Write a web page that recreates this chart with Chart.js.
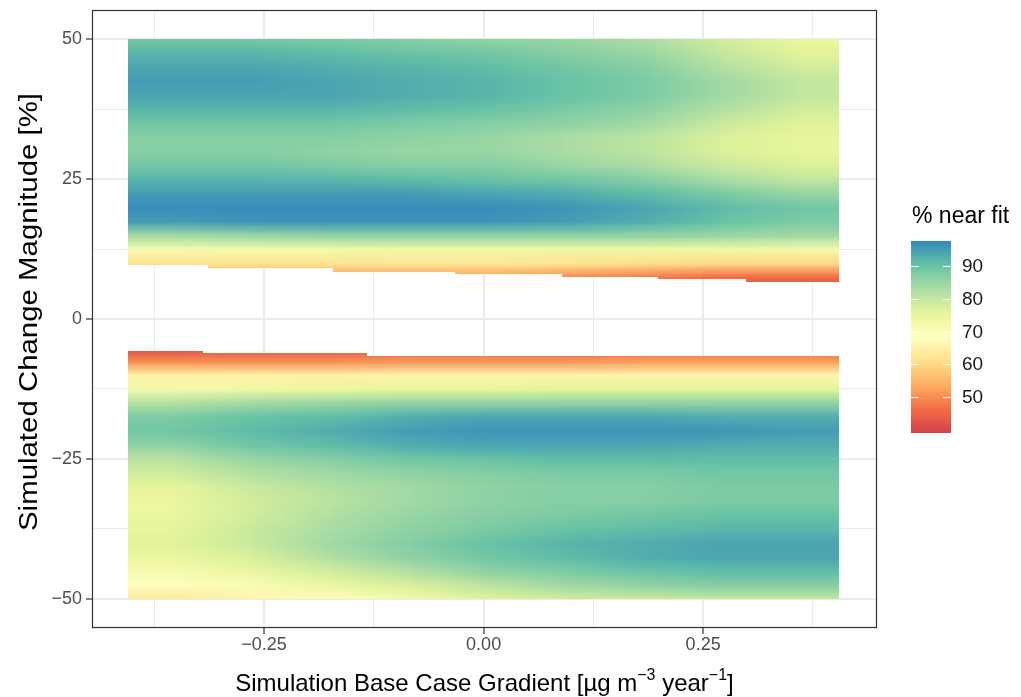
<!DOCTYPE html>
<html><head><meta charset="utf-8">
<script src="https://cdn.jsdelivr.net/npm/chart.js@4.4.0/dist/chart.umd.min.js"></script>
<style>html,body{margin:0;padding:0;background:#fff;}#wrap{width:1021px;height:697px;}</style>
</head><body><div id="wrap"><canvas id="c" width="1021" height="697"></canvas></div>
<script>
// ---------- data ----------
const xCenters = [-0.36, -0.27, -0.18, -0.09, 0, 0.09, 0.18, 0.27, 0.36];

const topRowsY = [50, 47.5, 45, 42.5, 40, 37.5, 35, 32.5, 30, 27.5, 25, 22.5, 20, 17.5, 15, 12.5, 10, 7.5, 5];
const topValues = [
  [89, 89, 88, 87, 86, 85, 83, 78, 74],
  [92, 92, 91, 90, 89, 87, 85, 80, 76],
  [94, 94, 93, 92, 91, 89, 87, 82, 78],
  [95, 95, 94, 93, 92, 90, 88, 84, 80],
  [94, 94, 94, 93, 92, 90, 88, 84, 80],
  [92, 92, 92, 91, 90, 88, 86, 82, 78],
  [89, 89, 89, 88, 87, 86, 84, 79, 76],
  [87, 87, 87, 86, 85, 83, 81, 77, 75],
  [87, 87, 86, 85, 85, 83, 81, 77, 75],
  [89, 89, 88, 87, 87, 85, 83, 79, 77],
  [92, 92, 92, 91, 90, 89, 87, 83, 80],
  [95, 95, 95, 95, 94, 93, 91, 88, 85],
  [97, 97, 97, 97, 97, 96, 94, 91, 89],
  [95, 96, 96, 96, 96, 95, 93, 90, 88],
  [84, 85, 86, 86, 86, 86, 86, 85, 84],
  [71, 72, 72, 73, 73, 73, 73, 73, 72],
  [62, 62, 62, 63, 63, 62, 61, 60, 60],
  [52, 52, 52, 52, 52, 50, 48, 46, 46],
  [46, 46, 46, 46, 46, 44, 42, 40, 40]
];

const bottomRowsY = [-5, -7.5, -10, -12.5, -15, -17.5, -20, -22.5, -25, -27.5, -30, -32.5, -35, -37.5, -40, -42.5, -45, -47.5, -50];
const bottomValues = [
  [40, 41, 42, 43, 43, 43, 43, 43, 43],
  [50, 50, 50, 51, 51, 51, 52, 52, 52],
  [65, 65, 65, 66, 66, 66, 66, 66, 66],
  [72, 73, 74, 75, 75, 76, 76, 76, 76],
  [82, 84, 85, 86, 86, 86, 86, 86, 86],
  [88, 90, 91, 93, 94, 94, 94, 93, 93],
  [89, 91, 93, 95, 96, 96, 96, 96, 95],
  [86, 89, 91, 93, 94, 94, 94, 93, 93],
  [81, 85, 87, 89, 90, 91, 91, 91, 91],
  [78, 82, 84, 86, 87, 88, 88, 89, 89],
  [75, 79, 82, 84, 86, 87, 87, 88, 88],
  [74, 78, 81, 84, 86, 87, 87, 88, 88],
  [74, 78, 82, 85, 87, 88, 89, 90, 90],
  [75, 79, 83, 86, 88, 90, 91, 92, 92],
  [76, 79, 84, 87, 90, 92, 93, 94, 94],
  [74, 77, 82, 86, 89, 91, 93, 94, 94],
  [71, 74, 78, 82, 86, 88, 90, 91, 91],
  [68, 70, 74, 77, 81, 84, 86, 87, 87],
  [63, 66, 69, 72, 76, 78, 79, 80, 80]
];

// band limits (stepped inner edges)
const topBandMax = 50;
const topEdgeBreaks = [-0.405, -0.314, -0.171, -0.033, 0.089, 0.199, 0.299, 0.405];
const topEdgeY = [9.6, 9.05, 8.45, 8.05, 7.55, 7.1, 6.65];
const bottomBandMin = -50;
const bottomEdgeBreaks = [-0.405, -0.32, -0.133, 0.405];
const bottomEdgeY = [-5.65, -6.1, -6.6];

// axes
const xTicks = [-0.375, -0.25, -0.125, 0, 0.125, 0.25, 0.375];
const xTickLabels = {"-0.25": "\u22120.25", "0": "0.00", "0.25": "0.25"};
const yTicks = [-50, -37.5, -25, -12.5, 0, 12.5, 25, 37.5, 50];
const yTickLabels = {"-50": "\u221250", "-25": "\u221225", "0": "0", "25": "25", "50": "50"};

// colour scale
const legendTicks = [50, 60, 70, 80, 90];
const fillMin = 39, fillMax = 97.7;
const spectral = ['#D53E4F', '#F46D43', '#FDAE61', '#FEE08B', '#FFFFBF', '#E6F598', '#ABDDA4', '#66C2A5', '#3288BD'];

// ---------- helpers ----------
const FONT = "'Liberation Sans', Arial, sans-serif";
const spRGB = spectral.map(h => [parseInt(h.substr(1,2),16), parseInt(h.substr(3,2),16), parseInt(h.substr(5,2),16)]);
function colorOf(v) {
  let t = (v - fillMin) / (fillMax - fillMin);
  t = Math.max(0, Math.min(1, t));
  const p = t * (spRGB.length - 1);
  const i = Math.min(spRGB.length - 2, Math.floor(p));
  const f = p - i;
  return spRGB[i].map((c, k) => Math.round(c + (spRGB[i + 1][k] - c) * f));
}
function isMajor(v, step) { return Math.abs(v / step - Math.round(v / step)) < 1e-6; }

function drawBand(chart, rowsY, values, breaks, edgeY, upper) {
  const {ctx, scales: {x, y}} = chart;
  const nC = xCenters.length, nR = rowsY.length;
  const off = document.createElement('canvas');
  off.width = nC; off.height = nR;
  const octx = off.getContext('2d');
  const img = octx.createImageData(nC, nR);
  for (let r = 0; r < nR; r++) for (let c = 0; c < nC; c++) {
    const col = colorOf(values[r][c]);
    const o = (r * nC + c) * 4;
    img.data[o] = col[0]; img.data[o+1] = col[1]; img.data[o+2] = col[2]; img.data[o+3] = 255;
  }
  octx.putImageData(img, 0, 0);
  const dx = (xCenters[1] - xCenters[0]) / 2;
  const dy = Math.abs(rowsY[1] - rowsY[0]) / 2;
  const px0 = x.getPixelForValue(xCenters[0] - dx), px1 = x.getPixelForValue(xCenters[nC-1] + dx);
  const py0 = y.getPixelForValue(rowsY[0] + dy), py1 = y.getPixelForValue(rowsY[nR-1] - dy);
  ctx.save();
  ctx.beginPath();
  for (let i = 0; i < edgeY.length; i++) {
    const xa = Math.round(x.getPixelForValue(breaks[i])), xb = Math.round(x.getPixelForValue(breaks[i+1]));
    let ya, yb;
    if (upper) { ya = Math.round(y.getPixelForValue(topBandMax)); yb = Math.round(y.getPixelForValue(edgeY[i])); }
    else { ya = Math.round(y.getPixelForValue(edgeY[i])); yb = Math.round(y.getPixelForValue(bottomBandMin)); }
    ctx.rect(xa, ya, xb - xa, yb - ya);
  }
  ctx.clip();
  ctx.imageSmoothingEnabled = true;
  ctx.imageSmoothingQuality = 'low';
  ctx.drawImage(off, px0, py0, px1 - px0, py1 - py0);
  ctx.restore();
}

// draw text stretched to a target length along its direction
function fitText(ctx, txt, len) {
  const w = ctx.measureText(txt).width;
  ctx.save(); ctx.scale(len / w, 1); ctx.fillText(txt, 0, 0); ctx.restore();
}

const heatPlugin = {
  id: 'heat',
  beforeDatasetsDraw(chart) {
    drawBand(chart, topRowsY, topValues, topEdgeBreaks, topEdgeY, true);
    drawBand(chart, bottomRowsY, bottomValues, bottomEdgeBreaks, bottomEdgeY, false);
  },
  afterDraw(chart) {
    const {ctx, chartArea: a} = chart;
    ctx.save();
    // panel border
    ctx.strokeStyle = '#333333'; ctx.lineWidth = 1.2;
    ctx.strokeRect(a.left + 0.5, a.top + 0.5, a.right - a.left - 1, a.bottom - a.top - 1);
    // y title
    ctx.fillStyle = '#000';
    ctx.font = '25px ' + FONT;
    ctx.textAlign = 'center'; ctx.textBaseline = 'middle';
    ctx.save();
    ctx.translate(30, 312);
    ctx.rotate(-Math.PI / 2);
    fitText(ctx, 'Simulated Change Magnitude [%]', 438);
    ctx.restore();
    // x title with superscripts
    const parts = [
      ['Simulation Base Case Gradient [\u00b5g m', false],
      ['\u22123', true],
      [' year', false],
      ['\u22121', true],
      [']', false]
    ];
    const big = '24px ' + FONT, small = '16px ' + FONT;
    let total = 0;
    parts.forEach(p => { ctx.font = p[1] ? small : big; total += ctx.measureText(p[0]).width; });
    let cx = (a.left + a.right) / 2 - total / 2;
    const by = 691;
    ctx.textAlign = 'left'; ctx.textBaseline = 'alphabetic';
    parts.forEach(p => {
      ctx.font = p[1] ? small : big;
      ctx.fillText(p[0], cx, p[1] ? by - 11 : by);
      cx += ctx.measureText(p[0]).width;
    });
    // legend
    const L = 911, R = 951, T = 241, B = 433;
    ctx.font = '23px ' + FONT; ctx.textBaseline = 'middle';
    ctx.fillStyle = '#000';
    ctx.fillText('% near fit', 912, 217);
    const g = ctx.createLinearGradient(0, B, 0, T);
    spectral.forEach((c, i) => g.addColorStop(i / (spectral.length - 1), c));
    ctx.fillStyle = g;
    ctx.fillRect(L, T, R - L, B - T);
    ctx.strokeStyle = '#fff'; ctx.lineWidth = 1.2;
    ctx.font = '19px ' + FONT; ctx.fillStyle = '#1a1a1a';
    legendTicks.forEach(v => {
      const yy = Math.round(B - (v - fillMin) / (fillMax - fillMin) * (B - T)) + 0.5;
      ctx.beginPath(); ctx.moveTo(L, yy); ctx.lineTo(L + 8, yy); ctx.moveTo(R - 8, yy); ctx.lineTo(R, yy); ctx.stroke();
      ctx.fillText(String(v), 962, yy);
    });
    ctx.restore();
  }
};

const cells = [];
topRowsY.forEach((yy, r) => xCenters.forEach((xx, c) => cells.push({x: xx, y: yy, v: topValues[r][c]})));
bottomRowsY.forEach((yy, r) => xCenters.forEach((xx, c) => cells.push({x: xx, y: yy, v: bottomValues[r][c]})));

new Chart(document.getElementById('c'), {
  type: 'scatter',
  data: { datasets: [{ label: '% near fit', data: cells, pointRadius: 0, pointHoverRadius: 0 }] },
  options: {
    responsive: false, animation: false, events: [],
    layout: { padding: { top: 10, right: 144, left: 0, bottom: 0 } },
    plugins: { legend: { display: false }, tooltip: { enabled: false } },
    scales: {
      x: {
        type: 'linear', min: -0.446, max: 0.448,
        afterBuildTicks: s => { s.ticks = xTicks.map(v => ({value: v})); },
        afterFit: s => { s.height = 69; s.paddingLeft = 0; s.paddingRight = 0; },
        border: { display: false },
        grid: {
          color: '#EBEBEB',
          lineWidth: c => (c.tick && isMajor(c.tick.value, 0.25)) ? 2 : 1,
          tickColor: c => (c.tick && isMajor(c.tick.value, 0.25)) ? '#333333' : 'rgba(0,0,0,0)',
          tickWidth: 1.2, tickLength: 6, drawTicks: true
        },
        ticks: {
          autoSkip: false, maxRotation: 0, padding: 0,
          color: '#4D4D4D', font: { family: FONT, size: 18 },
          callback: v => xTickLabels[String(Math.round(v * 1000) / 1000)] || ''
        }
      },
      y: {
        type: 'linear', min: -55.2, max: 55.2,
        afterBuildTicks: s => { s.ticks = yTicks.map(v => ({value: v})); },
        afterFit: s => { s.width = 92; s.paddingTop = 0; s.paddingBottom = 0; },
        border: { display: false },
        grid: {
          color: '#EBEBEB',
          lineWidth: c => (c.tick && isMajor(c.tick.value, 25)) ? 2 : 1,
          tickColor: c => (c.tick && isMajor(c.tick.value, 25)) ? '#333333' : 'rgba(0,0,0,0)',
          tickWidth: 1.2, tickLength: 6, drawTicks: true
        },
        ticks: {
          autoSkip: false, padding: 4,
          color: '#4D4D4D', font: { family: FONT, size: 18 },
          callback: v => yTickLabels[String(v)] || ''
        }
      }
    }
  },
  plugins: [heatPlugin]
});
</script>
</body></html>
